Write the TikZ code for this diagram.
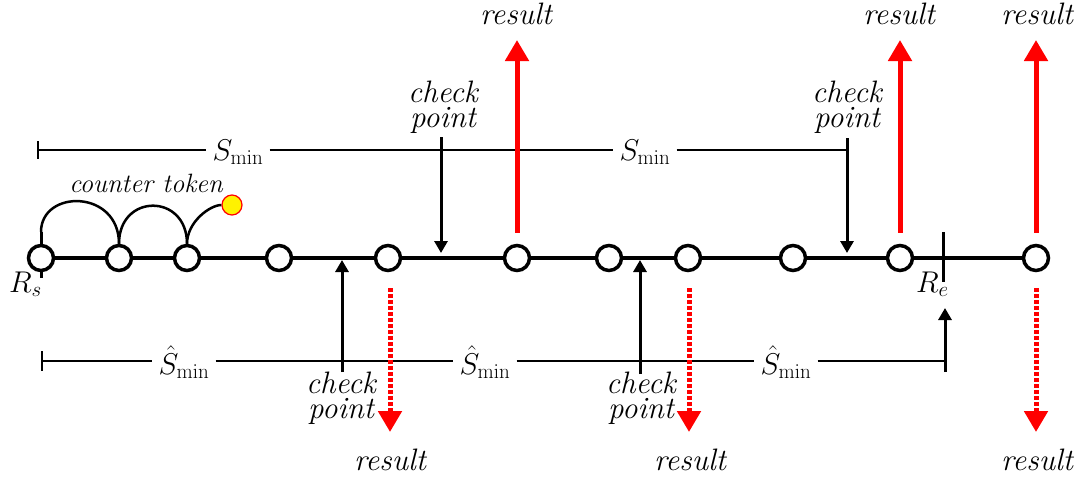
\RequirePackage{fix-cm}
\documentclass[tikz,border=0pt]{standalone}
\usetikzlibrary{arrows.meta}
\begin{document}
\begin{tikzpicture}[x=1pt,y=-1pt,
 tok/.style={circle,draw=black,line width=3.5pt,fill=white,minimum size=25pt,inner sep=0pt},
 lbl/.style={font=\fontsize{31}{24.5}\selectfont\itshape,align=center,inner sep=0pt},
 mlbl/.style={font=\fontsize{30}{30}\selectfont,inner sep=0pt},
 slbl/.style={font=\fontsize{30}{30}\selectfont,inner ysep=0pt,inner xsep=6pt},
 mainline/.style={line width=4pt},
 span/.style={line width=2.2pt},
 chk/.style={line width=3pt,-{Triangle[length=12pt,width=13pt]}},
 res/.style={red,line width=5pt,-{Triangle[length=21pt,width=23pt]}},
 resd/.style={red,line width=5pt,dash pattern=on 3.5pt off 2.5pt,-{Triangle[length=21pt,width=23pt]}},
]
\useasboundingbox (0,0) rectangle (1084,482);

% R_s and R_e ticks
\coordinate (rst) at (41,232);
\coordinate (rsb) at (41,278);
\draw[line width=3pt] (rst) -- (rsb);
\coordinate (ret) at (943,232);
\coordinate (reb) at (943,282);

% tokens
\node[tok] (n1) at (41,258) {};
\node[tok] (n2) at (119,258) {};
\node[tok] (n3) at (187,258) {};
\node[tok] (n4) at (279,258) {};
\node[tok] (n5) at (388,258) {};
\node[tok] (n6) at (517,258) {};
\node[tok] (n7) at (609,258) {};
\node[tok] (n8) at (688,258) {};
\node[tok] (n9) at (793,258) {};
\node[tok] (n10) at (900,258) {};
\node[tok] (n11) at (1036,258) {};
\draw[mainline] (n1) -- (n2) -- (n3) -- (n4) -- (n5) -- (n6) -- (n7) -- (n8) -- (n9) -- (n10) -- (n11);
\draw[line width=3pt] (ret) -- (reb);

\node[mlbl,anchor=base west] (rs) at (9,292) {$R_s$};
\node[mlbl,anchor=base west] (re) at (916,292) {$R_e$};

% counter token
\node[circle,draw=red,fill=yellow,line width=1.2pt,minimum size=20pt,inner sep=0pt] (ct) at (232,205) {};
\draw[line width=2.5pt] (rst) .. controls (41,189) and (119,189) .. (n2.north);
\draw[line width=2.5pt] (n2.north) .. controls (119,193) and (187,193) .. (n3.north);
\draw[line width=2.5pt] (n3.north) .. controls (187,222) and (210,205) .. (ct.west);
\node[font=\fontsize{26.5}{26}\selectfont\itshape,anchor=base,inner sep=0pt] (ctl) at (146,192) {counter token};

% top S_min span
\coordinate (tl) at (38,150);
\coordinate (tlt) at (38,141);
\coordinate (tlb) at (38,159);
\coordinate (tr) at (847,150);
\draw[span] (tlt) -- (tlb);
\node[slbl,anchor=base] (s1) at (238,160) {$S_{\min}$};
\node[slbl,anchor=base] (s2) at (645,160) {$S_{\min}$};
\draw[span] (tl) -- (s1.west |- tl);
\draw[span] (s1.east |- tl) -- (s2.west |- tl);
\draw[span] (s2.east |- tl) -- (tr);

% top check points
\coordinate (c1s) at (441,137);
\coordinate (c1e) at (441,253);
\coordinate (c2s) at (847,138);
\coordinate (c2e) at (847,253);
\draw[chk] (c1s) -- (c1e);
\draw[chk] (c2s) -- (c2e);
\node[lbl] (cp1) at (443,107) {check\\point};
\node[lbl] (cp2) at (847,107) {check\\point};

% bottom S-hat span
\coordinate (bl) at (42,361);
\coordinate (blt) at (42,351);
\coordinate (blb) at (42,371);
\coordinate (br) at (945,361);
\draw[span] (blt) -- (blb);
\node[slbl,anchor=base] (h1) at (184,374) {$\hat{S}_{\min}$};
\node[slbl,anchor=base] (h2) at (485,374) {$\hat{S}_{\min}$};
\node[slbl,anchor=base] (h3) at (786,374) {$\hat{S}_{\min}$};
\draw[span] (bl) -- (h1.west |- bl);
\draw[span] (h1.east |- bl) -- (h2.west |- bl);
\draw[span] (h2.east |- bl) -- (h3.west |- bl);
\draw[span] (h3.east |- bl) -- (br);
\coordinate (res) at (945,372);
\coordinate (ree) at (945,308);
\draw[chk] (res) -- (ree);

% bottom check points
\coordinate (c3s) at (342,372);
\coordinate (c3e) at (342,260);
\coordinate (c4s) at (640,374);
\coordinate (c4e) at (640,260);
\draw[chk] (c3s) -- (c3e);
\draw[chk] (c4s) -- (c4e);
\node[lbl] (cp3) at (341,398) {check\\point};
\node[lbl] (cp4) at (641,398) {check\\point};

% results up
\coordinate (u1) at (517,40);
\coordinate (u2) at (900,40);
\coordinate (u3) at (1036,40);
\draw[res] ([yshift=11pt]n6.north) -- (u1);
\draw[res] ([yshift=11pt]n10.north) -- (u2);
\draw[res] ([yshift=11pt]n11.north) -- (u3);
\node[lbl,anchor=base] (ru1) at (516,24) {result};
\node[lbl,anchor=base] (ru2) at (899,24) {result};
\node[lbl,anchor=base] (ru3) at (1037,24) {result};

% results down (dotted)
\coordinate (d1) at (390,432);
\coordinate (d2) at (689,432);
\coordinate (d3) at (1036,432);
\draw[resd] ([yshift=-16pt]n5.south -| d1) -- (d1);
\draw[resd] ([yshift=-16pt]n8.south -| d2) -- (d2);
\draw[resd] ([yshift=-16pt]n11.south) -- (d3);
\node[lbl,anchor=base] (rd1) at (390,470) {result};
\node[lbl,anchor=base] (rd2) at (690,470) {result};
\node[lbl,anchor=base] (rd3) at (1037,470) {result};
\end{tikzpicture}
\end{document}
